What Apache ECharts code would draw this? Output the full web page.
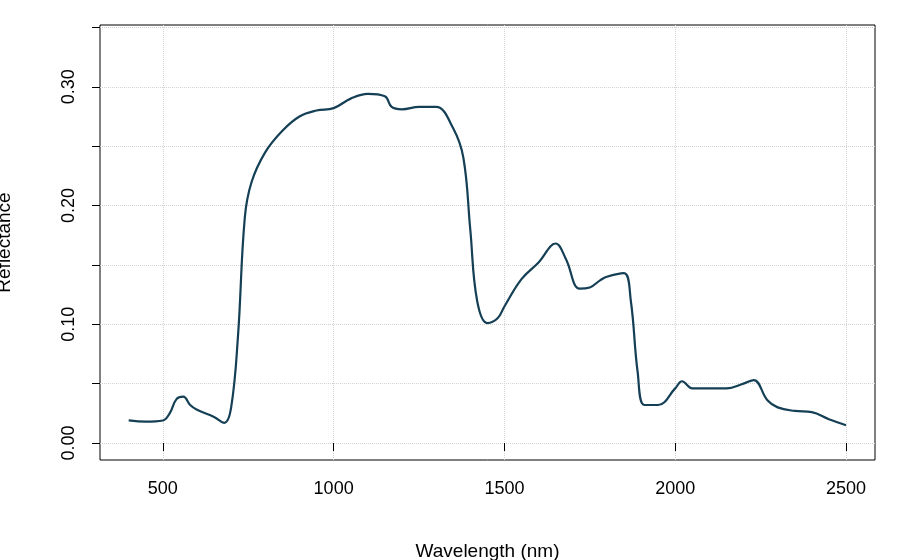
<!DOCTYPE html>
<html><head><meta charset="utf-8">
<script src="https://cdn.jsdelivr.net/npm/echarts@6/dist/echarts.min.js"></script>
<style>html,body{margin:0;background:#fff}#c{width:900px;height:560px}</style>
</head><body><div id="c"></div>
<script>
const wavelengths=[400,450,500,520,540,560,580,600,650,680,700,720,740,760,800,850,900,950,1000,1050,1100,1150,1170,1200,1250,1300,1350,1380,1400,1420,1450,1480,1500,1550,1600,1650,1680,1720,1750,1780,1800,1850,1870,1890,1910,1950,2000,2020,2050,2100,2150,2200,2230,2270,2300,2350,2400,2450,2500];
const reflectance=[0.019,0.018,0.019,0.025,0.037,0.039,0.032,0.028,0.022,0.017,0.03,0.09,0.19,0.22,0.245,0.263,0.275,0.28,0.282,0.29,0.294,0.292,0.283,0.281,0.283,0.283,0.265,0.24,0.18,0.12,0.101,0.105,0.115,0.138,0.152,0.168,0.155,0.13,0.131,0.137,0.14,0.143,0.12,0.06,0.032,0.032,0.046,0.052,0.046,0.046,0.046,0.05,0.053,0.036,0.03,0.027,0.026,0.02,0.015];
const xTicks=[500,1000,1500,2000,2500];
const yTicks=[0,0.05,0.1,0.15,0.2,0.25,0.3,0.35];
const yLabels=[0,0.1,0.2,0.3];
const font='Liberation Sans, Arial, sans-serif';
const chart=echarts.init(document.getElementById('c'));
chart.setOption({
 animation:false,
 grid:{left:100,right:25,top:25,bottom:100,outerBoundsMode:'none',containLabel:false,show:true,borderColor:'#000',borderWidth:1},
 xAxis:{type:'value',min:316,max:2585,name:'Wavelength (nm)',nameLocation:'middle',nameGap:82,
  nameTextStyle:{fontFamily:font,fontSize:19,color:'#000'},
  axisLine:{show:false},
  axisTick:{show:true,length:8,customValues:xTicks,lineStyle:{color:'#000'}},
  axisLabel:{customValues:xTicks,fontFamily:font,fontSize:18,color:'#000',margin:20,formatter:v=>String(v)},
  splitLine:{show:true,lineStyle:{color:'#d3d3d3',type:'dotted'}}},
 yAxis:{type:'value',min:-0.0143,max:0.352,name:'Reflectance',nameLocation:'middle',nameGap:86,
  nameTextStyle:{fontFamily:font,fontSize:19,color:'#000'},
  axisLine:{show:false},
  axisTick:{show:true,length:8,customValues:yTicks,lineStyle:{color:'#000'}},
  axisLabel:{customValues:yLabels,rotate:90,fontFamily:font,fontSize:18,color:'#000',margin:22,formatter:v=>v.toFixed(2)},
  splitLine:{show:true,lineStyle:{color:'#d3d3d3',type:'dotted'}}},
 series:[{type:'line',data:wavelengths.map((w,i)=>[w,reflectance[i]]),smooth:0.4,showSymbol:false,
  lineStyle:{color:'#143f55',width:2.2}}]
});
</script></body></html>
